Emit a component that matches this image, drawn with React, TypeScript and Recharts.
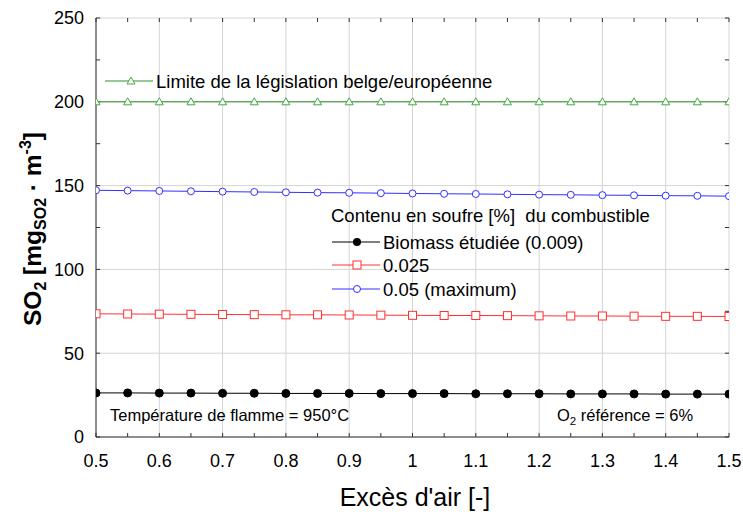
import React from 'react';
import { LineChart, Line, XAxis, YAxis, CartesianGrid, ReferenceLine, Customized } from 'recharts';

const excesAir = [0.5, 0.55, 0.6, 0.65, 0.7, 0.75, 0.8, 0.85, 0.9, 0.95, 1, 1.05, 1.1, 1.15, 1.2, 1.25, 1.3, 1.35, 1.4, 1.45, 1.5];
const biomasse = [26.3, 26.3, 26.2, 26.2, 26.1, 26.1, 26.0, 26.0, 26.0, 25.9, 25.9, 25.9, 25.8, 25.8, 25.8, 25.7, 25.7, 25.7, 25.6, 25.6, 25.6];
const soufre025 = [73.5, 73.4, 73.3, 73.2, 73.1, 73.0, 72.9, 72.9, 72.8, 72.7, 72.6, 72.5, 72.5, 72.4, 72.3, 72.2, 72.2, 72.1, 72.0, 72.0, 71.9];
const soufre05 = [147.2, 147.0, 146.8, 146.6, 146.4, 146.2, 146.0, 145.8, 145.7, 145.5, 145.3, 145.1, 145.0, 144.8, 144.6, 144.5, 144.3, 144.2, 144.0, 143.9, 143.7];
const limite = [200, 200, 200, 200, 200, 200, 200, 200, 200, 200, 200, 200, 200, 200, 200, 200, 200, 200, 200, 200, 200];

const xTicks = [0.5, 0.6, 0.7, 0.8, 0.9, 1, 1.1, 1.2, 1.3, 1.4, 1.5];
const xMinor = [0.55, 0.65, 0.75, 0.85, 0.95, 1.05, 1.15, 1.25, 1.35, 1.45];
const yTicks = [0, 50, 100, 150, 200, 250];
const yMinor = [25, 75, 125, 175, 225];

const data = excesAir.map((x, i) => ({
  x,
  bio: biomasse[i],
  s025: soufre025[i],
  s05: soufre05[i],
  lim: limite[i],
}));

const FONT = '"Liberation Sans", Arial, sans-serif';
const AXIS = '#333';

const BLACK = '#000';
const RED = '#ff3030';
const BLUE = '#3030ff';
const GREEN = '#2f8f2f';
const GREEN_M = '#44aa44';

const Square = (props: any) => {
  const { cx, cy } = props;
  if (cx == null || cy == null) return null;
  return <rect x={cx - 4} y={cy - 4} width={8} height={8} fill="#fff" stroke={RED} strokeWidth={1} />;
};
const Triangle = (props: any) => {
  const { cx, cy } = props;
  if (cx == null || cy == null) return null;
  return <path d={`M${cx},${cy - 4} L${cx + 4},${cy + 3} L${cx - 4},${cy + 3} Z`} fill="#fff" stroke={GREEN_M} strokeWidth={1} />;
};

// ligne + marqueur + libellé de légende
const legendRow = (y: number, color: string, marker: React.ReactNode, label: string, x0: number) => (
  <g>
    <line x1={x0} x2={x0 + 48} y1={y} y2={y} stroke={color} strokeWidth={1} />
    {marker}
    <text x={x0 + 51} y={y + 6.5} fontSize={18.5} fontFamily={FONT} fill="#000">{label}</text>
  </g>
);

const Annotations = () => (
  <g>
    {/* titre axe y */}
    <text transform="translate(41,229) rotate(-90)" textAnchor="middle" fontSize={24.5} fontWeight="bold" fontFamily={FONT} fill="#000">
      SO<tspan fontSize={16} dy={5}>2</tspan>
      <tspan dy={-5}> [mg</tspan>
      <tspan fontSize={16} dy={5}>SO2</tspan>
      <tspan dy={-5}> · m</tspan>
      <tspan fontSize={16} dy={-10}>-3</tspan>
      <tspan dy={10}>]</tspan>
    </text>
    {/* titre axe x */}
    <text x={415} y={506} textAnchor="middle" fontSize={25} fontFamily={FONT} fill="#000">Excès d'air [-]</text>

    {legendRow(81, GREEN, <path d="M131,77 L135,84 L127,84 Z" fill="#fff" stroke={GREEN_M} />, 'Limite de la législation belge/européenne', 105)}

    <text x={331} y={222} fontSize={18.5} fontFamily={FONT} fill="#000" style={{ whiteSpace: 'pre' }}>Contenu en soufre [%]  du combustible</text>
    {legendRow(242, BLACK, <circle cx={357} cy={242} r={4} fill={BLACK} />, 'Biomass étudiée (0.009)', 332)}
    {legendRow(265, RED, <rect x={353} y={261} width={8} height={8} fill="#fff" stroke={RED} />, '0.025', 332)}
    {legendRow(289, BLUE, <circle cx={357} cy={289} r={3.5} fill="#fff" stroke={BLUE} />, '0.05 (maximum)', 332)}

    <text x={110} y={421} fontSize={16.5} fontFamily={FONT} fill="#000">Température de flamme = 950°C</text>
    <text x={557} y={421} fontSize={16.5} fontFamily={FONT} fill="#000">
      O<tspan fontSize={11.5} dy={4}>2</tspan><tspan dy={-4}> référence = 6%</tspan>
    </text>
  </g>
);

const tickLen = { x: 0.0065, y: 2.4 };

export default function App() {
  const allX = [...xTicks, ...xMinor];
  const allY = [...yTicks, ...yMinor];
  return (
    <div style={{ position: 'absolute', left: 0, top: 0, width: 743, height: 512, background: '#fff' }}>
      <LineChart width={743} height={512} data={data} margin={{ top: 18, right: 14, left: 0, bottom: 0 }}>
        <CartesianGrid stroke="#d4d4d4" strokeWidth={1} />
        <XAxis
          xAxisId={0}
          dataKey="x"
          type="number"
          domain={[0.5, 1.5]}
          ticks={xTicks}
          tickLine={false}
          axisLine={{ stroke: AXIS }}
          height={75}
          tickMargin={11}
          tick={{ fontSize: 18, fontFamily: FONT, fill: '#000' }}
          allowDataOverflow
        />
        <XAxis xAxisId="top" orientation="top" dataKey="x" type="number" domain={[0.5, 1.5]} height={0} tick={false} tickLine={false} axisLine={{ stroke: AXIS }} />
        <YAxis
          yAxisId={0}
          type="number"
          domain={[0, 250]}
          ticks={yTicks}
          tickLine={false}
          axisLine={{ stroke: AXIS }}
          width={96}
          tickMargin={6}
          tick={{ fontSize: 18, fontFamily: FONT, fill: '#000' }}
          allowDataOverflow
        />
        <YAxis yAxisId="right" orientation="right" type="number" domain={[0, 250]} width={0} tick={false} tickLine={false} axisLine={{ stroke: AXIS }} />

        {allX.map((t) => (
          <ReferenceLine key={'xb' + t} segment={[{ x: t, y: 0 }, { x: t, y: tickLen.y }]} stroke={AXIS} />
        ))}
        {allX.map((t) => (
          <ReferenceLine key={'xt' + t} segment={[{ x: t, y: 250 }, { x: t, y: 250 - tickLen.y }]} stroke={AXIS} />
        ))}
        {allY.map((t) => (
          <ReferenceLine key={'yl' + t} segment={[{ x: 0.5, y: t }, { x: 0.5 + tickLen.x, y: t }]} stroke={AXIS} />
        ))}
        {allY.map((t) => (
          <ReferenceLine key={'yr' + t} segment={[{ x: 1.5, y: t }, { x: 1.5 - tickLen.x, y: t }]} stroke={AXIS} />
        ))}

        <Line dataKey="lim" stroke={GREEN} strokeWidth={1} dot={<Triangle />} activeDot={false} isAnimationActive={false} />
        <Line dataKey="s05" stroke={BLUE} strokeWidth={1} dot={{ r: 3.5, fill: '#fff', stroke: BLUE, strokeWidth: 1 }} activeDot={false} isAnimationActive={false} />
        <Line dataKey="s025" stroke={RED} strokeWidth={1} dot={<Square />} activeDot={false} isAnimationActive={false} />
        <Line dataKey="bio" stroke={BLACK} strokeWidth={1} dot={{ r: 4, fill: BLACK, stroke: BLACK, strokeWidth: 1 }} activeDot={false} isAnimationActive={false} />

        <Customized component={Annotations} />
      </LineChart>
    </div>
  );
}
